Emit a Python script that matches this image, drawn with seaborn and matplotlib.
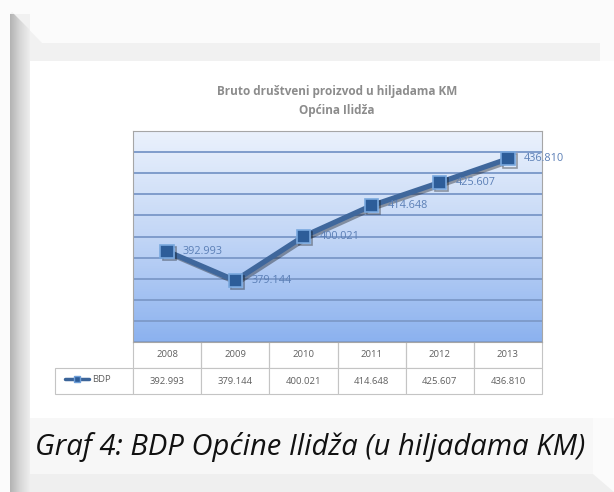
import numpy as np
import pandas as pd
import matplotlib.pyplot as plt
import seaborn as sns
from matplotlib.patches import Polygon, Rectangle
from matplotlib.lines import Line2D
import matplotlib.patheffects as pe
from matplotlib.colors import LinearSegmentedColormap

years = ['2008', '2009', '2010', '2011', '2012', '2013']
bdp = [392993, 379144, 400021, 414648, 425607, 436810]
series_name = 'BDP'
chart_title = 'Bruto društveni proizvod u hiljadama KM\nOpćina Ilidža'
caption = 'Graf 4: BDP Općine Ilidža (u hiljadama KM)'

labels = [f"{v:,}".replace(',', '.') for v in bdp]
df = pd.DataFrame({'year': years, 'bdp': bdp, 'pos': range(len(years))})

sns.set_style('white')
plt.rcParams['font.family'] = ['Open Sans', 'DejaVu Sans']

W, H = 614, 492
fig = plt.figure(figsize=(W / 100, H / 100), dpi=100)
fig.patch.set_facecolor('#fbfbfb')

# page decoration in pixel coordinates
bg = fig.add_axes([0, 0, 1, 1], zorder=-5)
bg.set_xlim(0, W)
bg.set_ylim(H, 0)
bg.axis('off')
bg.add_patch(Polygon([(12, 12), (42, 43), (600, 43), (600, 61), (30, 61), (30, H), (12, H)],
                     closed=True, fc='#f1f1f1', ec='none'))
bg.add_patch(Rectangle((30, 61), 584, 357, fc='white', ec='none'))
bg.add_patch(Rectangle((30, 418), 563, 56, fc='#f7f7f7', ec='none'))
bg.add_patch(Polygon([(30, 474), (593, 474), (614, 492), (30, 492)], closed=True, fc='#efefef', ec='none'))
bar = np.linspace(0, 1, 50).reshape(1, -1)
bar_cmap = LinearSegmentedColormap.from_list('bar', ['#b3b3b3', '#d6d6d6', '#eeeeee'])
bg.imshow(bar, cmap=bar_cmap, extent=[10, 30, H, 14], aspect='auto', zorder=2)
bg.add_patch(Polygon([(10, 14), (12, 12), (30, 30), (30, 14)], closed=True, fc='#f1f1f1', ec='none', zorder=3))

# plot area
L, R, T, B = 133, 542, 131, 342
ax = fig.add_axes([L / W, 1 - B / H, (R - L) / W, (B - T) / H])
grad = np.linspace(0, 1, 100).reshape(-1, 1)
area_cmap = LinearSegmentedColormap.from_list('area', ['#eaf1fc', '#c2d6f6', '#8cb2ef'])
ax.imshow(grad, cmap=area_cmap, extent=[-0.5, 5.5, 350000, 450000], aspect='auto', zorder=0)
ax.set_xlim(-0.5, 5.5)
ax.set_ylim(350000, 450000)
ax.set_yticks(range(350000, 450001, 10000))
ax.set_xticks([])
ax.yaxis.grid(True, color='#7f9ccb', lw=1.4, zorder=1)
ax.tick_params(left=False, labelleft=False, bottom=False)
for s in ax.spines.values():
    s.set_color('#a6a6a6')
    s.set_linewidth(0.8)

sns.lineplot(data=df, x='pos', y='bdp', ax=ax, color='#3f679c', lw=3.8, marker='s',
             markersize=9.5, markerfacecolor='#2d5d99', markeredgecolor='#79a8de',
             markeredgewidth=1.2, zorder=3,
             path_effects=[pe.SimpleLineShadow(offset=(1.5, -1.5), alpha=0.35), pe.Normal()])
ax.set_xlabel('')
ax.set_ylabel('')

for i, v in enumerate(bdp):
    ax.annotate(labels[i], (i, v), xytext=(11.5, 0), textcoords='offset points',
                color='#5b7fb6', fontsize=7.8, va='center', ha='left',
                annotation_clip=False, zorder=4)

# data table under the plot
first_w = 78
tbl_w = first_w + (R - L)
tbl_h = 52
tbl = ax.table(cellText=[[''] + labels], colLabels=[''] + years,
               colWidths=[first_w / tbl_w] + [(R - L) / 6 / tbl_w] * 6,
               cellLoc='center',
               bbox=[-first_w / (R - L), -tbl_h / (B - T), tbl_w / (R - L), tbl_h / (B - T)])
tbl.auto_set_font_size(False)
for (r, c), cell in tbl.get_celld().items():
    cell.set_edgecolor('#c4c4c4')
    cell.set_linewidth(0.8)
    cell.get_text().set_fontsize(6.8)
    cell.get_text().set_color('#606060')
    if r == 0:
        cell.visible_edges = '' if c == 0 else 'LRB'

# legend key inside the table
leg = fig.legend(handles=[Line2D([], [], color='#3b6499', lw=2.5, marker='s', markersize=5,
                                 markerfacecolor='#2d5d99', markeredgecolor='#6f9fd8')],
                 labels=[series_name], loc='center left', bbox_to_anchor=(60 / W, 1 - 380 / H),
                 frameon=False, fontsize=6.8, handlelength=2.6, handletextpad=0.3, borderpad=0)
for t in leg.get_texts():
    t.set_color('#606060')

fig.text(337 / W, 1 - 101 / H, chart_title, ha='center', va='center', fontsize=8.5,
         fontweight='bold', color='#8c8c8c', linespacing=1.6)
fig.text(310 / W, 1 - 447 / H, caption, ha='center', va='center', fontsize=21,
         style='italic', color='#111111')

fig.savefig('out.png', dpi=100)
